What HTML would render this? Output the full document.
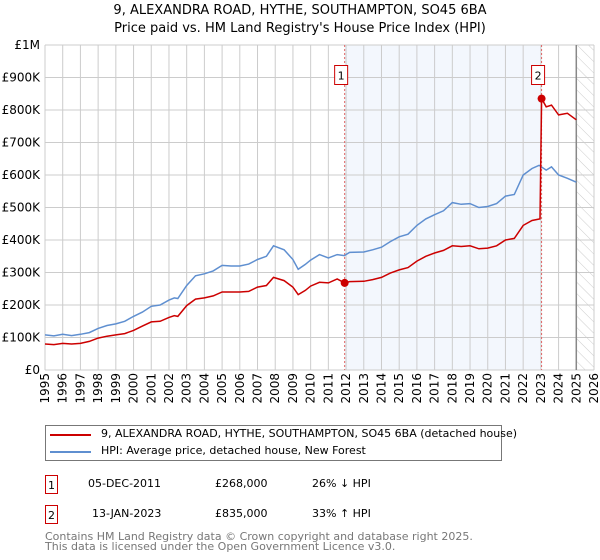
<!DOCTYPE html>
<html><head><meta charset="utf-8"><style>
body{margin:0;width:600px;height:560px;background:#fff;font-family:"DejaVu Sans","Liberation Sans",sans-serif;overflow:hidden;position:relative}
.t{position:absolute;font-size:11px;color:#000;white-space:nowrap}
.box{position:absolute;border:1px solid #c00;width:13px;height:19px;font-size:11px;text-align:center;line-height:19px;box-sizing:border-box}
</style></head><body>
<div class="t" style="left:0;width:600px;text-align:center;top:3px;font-size:13px">9, ALEXANDRA ROAD, HYTHE, SOUTHAMPTON, SO45 6BA</div>
<div class="t" style="left:0;width:600px;text-align:center;top:21px;font-size:13px">Price paid vs. HM Land Registry's House Price Index (HPI)</div>
<svg id="c" width="600" height="420" style="position:absolute;left:0;top:0" font-family="DejaVu Sans, Liberation Sans, sans-serif" font-size="12"></svg>
<div style="position:absolute;left:45px;top:425px;width:457px;height:36px;border:1px solid #777;box-sizing:border-box">
<div style="position:absolute;left:4px;top:8px;width:41px;height:2px;background:#c00"></div>
<div class="t" style="left:55px;top:1px">9, ALEXANDRA ROAD, HYTHE, SOUTHAMPTON, SO45 6BA (detached house)</div>
<div style="position:absolute;left:4px;top:25px;width:41px;height:2px;background:#5f8fd0"></div>
<div class="t" style="left:55px;top:18px">HPI: Average price, detached house, New Forest</div>
</div>
<div class="box" style="left:45px;top:475px">1</div>
<div class="t" style="left:88px;top:477px">05-DEC-2011</div>
<div class="t" style="left:215px;top:477px">£268,000</div>
<div class="t" style="left:312px;top:477px">26% ↓ HPI</div>
<div class="box" style="left:45px;top:505px">2</div>
<div class="t" style="left:92px;top:507px">13-JAN-2023</div>
<div class="t" style="left:215px;top:507px">£835,000</div>
<div class="t" style="left:312px;top:507px">33% ↑ HPI</div>
<div class="t" style="left:45px;top:532px;color:#777;line-height:10px">Contains HM Land Registry data © Crown copyright and database right 2025.<br>This data is licensed under the Open Government Licence v3.0.</div>
<script>
const hpiX=[1995,1995.5,1996,1996.5,1997,1997.5,1998,1998.5,1999,1999.5,2000,2000.5,2001,2001.5,2002,2002.3,2002.5,2003,2003.5,2004,2004.5,2005,2005.5,2006,2006.5,2007,2007.5,2007.9,2008.5,2009,2009.3,2009.7,2010,2010.5,2011,2011.5,2011.9,2012.2,2013,2013.5,2014,2014.5,2015,2015.5,2016,2016.5,2017,2017.5,2018,2018.5,2019,2019.5,2020,2020.5,2021,2021.5,2022,2022.5,2022.9,2023.3,2023.6,2024,2024.5,2025];
const hpiY=[108,105,110,106,110,115,128,137,142,150,165,178,196,200,215,222,220,260,290,296,305,322,320,320,326,340,350,382,370,340,310,325,338,355,345,355,352,362,363,370,378,395,410,418,445,465,478,490,515,510,512,500,503,512,535,540,600,620,630,615,625,600,590,578];
const redX=[1995,1995.5,1996,1996.5,1997,1997.5,1998,1998.5,1999,1999.5,2000,2000.5,2001,2001.5,2002,2002.3,2002.5,2003,2003.5,2004,2004.5,2005,2005.5,2006,2006.5,2007,2007.5,2007.9,2008.5,2009,2009.3,2009.7,2010,2010.5,2011,2011.5,2011.92,2012.2,2013,2013.5,2014,2014.5,2015,2015.5,2016,2016.5,2017,2017.5,2018,2018.5,2019,2019.5,2020,2020.5,2021,2021.5,2022,2022.5,2022.95,2023.04,2023.3,2023.6,2024,2024.5,2025];
const redY=[80,78,82,80,82,88,98,104,108,112,122,135,148,150,162,167,165,198,218,222,228,240,240,240,242,255,260,285,275,255,232,245,258,270,268,280,268,272,273,278,285,298,308,315,335,350,360,368,382,380,382,373,375,382,400,405,445,460,465,835,810,815,785,790,770];
const sales=[{x:2011.92,y:268,n:"1"},{x:2023.04,y:835,n:"2"}];
const yTicks=[0,100,200,300,400,500,600,700,800,900,1000];
const yLabels=["£0","£100K","£200K","£300K","£400K","£500K","£600K","£700K","£800K","£900K","£1M"];
const xTicks=[1995,1996,1997,1998,1999,2000,2001,2002,2003,2004,2005,2006,2007,2008,2009,2010,2011,2012,2013,2014,2015,2016,2017,2018,2019,2020,2021,2022,2023,2024,2025,2026];
const L=45,R=594,T=45,B=370,X0=1995,X1=2026;
const sx=v=>L+(v-X0)/(X1-X0)*(R-L), sy=v=>B-v/1000*(B-T);
const svg=document.getElementById('c'),NS='http://www.w3.org/2000/svg';
function mk(t,a,p){const e=document.createElementNS(NS,t);for(const k in a)e.setAttribute(k,a[k]);(p||svg).appendChild(e);return e;}
const shade=mk('rect',{x:sx(sales[0].x),y:T,width:sx(sales[1].x)-sx(sales[0].x),height:B-T,fill:'#eef3fc',opacity:0.7});


const defs=mk('defs',{});
const pat=mk('pattern',{id:'h',width:8,height:8,patternUnits:'userSpaceOnUse',patternTransform:'rotate(-45)'},defs);
mk('line',{x1:0,y1:0,x2:0,y2:8,stroke:'#ccc','stroke-width':1},pat);
const hatch=mk('rect',{x:sx(2025),y:T,width:R-sx(2025),height:B-T,fill:'url(#h)'});


yTicks.forEach((v,i)=>{
 const g=mk('line',{x1:L,x2:R,y1:sy(v),y2:sy(v),stroke:'#ccc'});
 
 
 const t=mk('text',{x:L-5,y:sy(v)+4,'text-anchor':'end'});t.textContent=yLabels[i];
 
 
});
xTicks.forEach(v=>{
 const g=mk('line',{x1:sx(v),x2:sx(v),y1:T,y2:B,stroke:'#ccc'});
 
 
 const t=mk('text',{x:0,y:0,'text-anchor':'end',transform:`translate(${sx(v)+4},${B+3}) rotate(-90)`});t.textContent=v;
 
 
});
const vl=mk('line',{x1:sx(2025),x2:sx(2025),y1:T,y2:B,stroke:'#888','stroke-width':1.5});


sales.forEach(s=>{
 const d=mk('line',{x1:sx(s.x),x2:sx(s.x),y1:T,y2:B,stroke:'#e06666','stroke-dasharray':'2,2'});
 
 
});
const pl=(xs,ys)=>xs.map((x,i)=>sx(x).toFixed(1)+','+sy(ys[i]).toFixed(1)).join(' ');
const h=mk('polyline',{points:pl(hpiX,hpiY),fill:'none',stroke:'#5f8fd0','stroke-width':1.5});


const r=mk('polyline',{points:pl(redX,redY),fill:'none',stroke:'#c00','stroke-width':1.5});


sales.forEach(s=>{
 const c=mk('circle',{cx:sx(s.x),cy:sy(s.y),r:4,fill:'#c00'});
 
 
 const b=mk('rect',{x:sx(s.x)-10,y:sy(900)-12,width:13,height:19,fill:'#fff',stroke:'#c00'});
 
 
 const t=mk('text',{x:sx(s.x)-3.5,y:sy(900)+2,'text-anchor':'middle','font-size':11});t.textContent=s.n;
 
 
});
</script>
</body></html>
